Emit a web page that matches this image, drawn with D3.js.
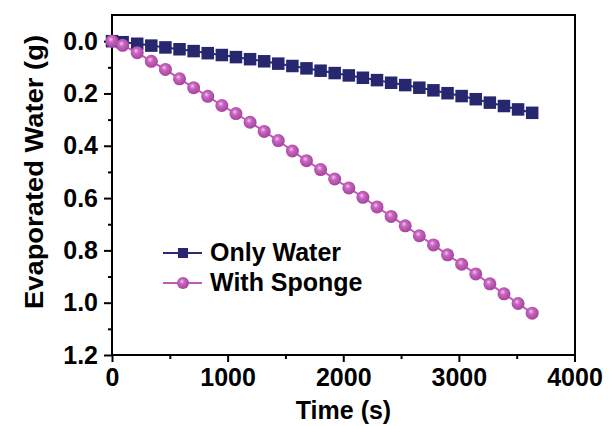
<!DOCTYPE html>
<html>
<head>
<meta charset="utf-8">
<script src="https://cdn.jsdelivr.net/npm/d3@7"></script>
<style>
  body { margin: 0; background: #fff; }
  text { font-family: "Liberation Sans", Arial, sans-serif; font-weight: bold; fill: #000; }
</style>
</head>
<body>
<svg id="chart" width="614" height="426"></svg>
<script>

// Messzeitpunkte (s)
var times = [0, 92, 218, 340, 462, 584, 706, 828, 950, 1072, 1194, 1316, 1438, 1560, 1682,
  1804, 1926, 2048, 2170, 2292, 2414, 2536, 2658, 2780, 2902, 3024, 3146, 3268, 3390, 3512, 3634];

// verdunstetes Wasser (g)
var onlyWater = [0.000, 0.004, 0.010, 0.017, 0.024, 0.031, 0.038, 0.046, 0.053, 0.061, 0.069,
  0.077, 0.086, 0.095, 0.104, 0.113, 0.122, 0.131, 0.140, 0.149, 0.159, 0.168, 0.178, 0.188,
  0.199, 0.210, 0.222, 0.235, 0.248, 0.261, 0.274];
var withSponge = [0.000, 0.016, 0.044, 0.077, 0.108, 0.144, 0.178, 0.211, 0.246, 0.277, 0.310,
  0.345, 0.380, 0.420, 0.457, 0.491, 0.527, 0.561, 0.597, 0.634, 0.670, 0.706, 0.744, 0.779,
  0.817, 0.853, 0.890, 0.928, 0.966, 1.003, 1.040];

var seriesNames = ["Only Water", "With Sponge"];

var xTicks = [0, 1000, 2000, 3000, 4000];
var xMinor = [500, 1500, 2500, 3500];
var yTicks = [0.0, 0.2, 0.4, 0.6, 0.8, 1.0, 1.2];
var yMinor = [0.1, 0.3, 0.5, 0.7, 0.9, 1.1];

var svg = d3.select("#chart");

var plot = { left: 112, right: 575, top: 15, bottom: 355 };

var x = d3.scaleLinear().domain([0, 4000]).range([plot.left, plot.right - 0.5]);
// y-Achse ist umgedreht: 0 oben
var y = d3.scaleLinear().domain([-0.1, 1.2]).range([plot.top, plot.bottom]);

// Gradient für die Kugeln
var defs = svg.append("defs");
var grad = defs.append("radialGradient")
  .attr("id", "ball")
  .attr("cx", "45%").attr("cy", "45%").attr("r", "60%")
  .attr("fx", "40%").attr("fy", "35%");
grad.append("stop").attr("offset", "0%").attr("stop-color", "#f2c4ee");
grad.append("stop").attr("offset", "35%").attr("stop-color", "#c766be");
grad.append("stop").attr("offset", "100%").attr("stop-color", "#a23d9c");

// Achsen
function styleAxis(g) {
  g.select(".domain").remove();
  g.selectAll("line").attr("stroke", "#000").attr("stroke-width", 2);
  g.selectAll("text").style("font-size", "25px");
}

svg.append("g")
  .attr("transform", "translate(" + plot.left + ",0)")
  .call(d3.axisLeft(y).tickValues(yTicks).tickSize(8).tickPadding(6).tickFormat(d3.format(".1f")))
  .call(styleAxis);

svg.append("g")
  .attr("transform", "translate(" + plot.left + ",0)")
  .call(d3.axisLeft(y).tickValues(yMinor).tickSize(4).tickFormat(""))
  .call(styleAxis);

svg.append("g")
  .attr("transform", "translate(0," + plot.bottom + ")")
  .call(d3.axisBottom(x).tickValues(xTicks).tickSize(7).tickPadding(6).tickFormat(d3.format("d")))
  .call(styleAxis);

svg.append("g")
  .attr("transform", "translate(0," + plot.bottom + ")")
  .call(d3.axisBottom(x).tickValues(xMinor).tickSize(4).tickFormat(""))
  .call(styleAxis);

// Rahmen
svg.append("rect")
  .attr("x", plot.left)
  .attr("y", plot.top)
  .attr("width", plot.right - plot.left)
  .attr("height", plot.bottom - plot.top)
  .attr("fill", "none")
  .attr("stroke", "#000")
  .attr("stroke-width", 2);

// Achsentitel
svg.append("text")
  .attr("x", (plot.left + plot.right) / 2)
  .attr("y", 419)
  .attr("text-anchor", "middle")
  .style("font-size", "25px")
  .text("Time (s)");

svg.append("text")
  .attr("transform", "translate(43,172) rotate(-90)")
  .attr("text-anchor", "middle")
  .attr("textLength", 274)
  .attr("lengthAdjust", "spacingAndGlyphs")
  .style("font-size", "26px")
  .text("Evaporated Water (g)");

// Reihen
var line = d3.line()
  .x(function(d) { return x(d[0]); })
  .y(function(d) { return y(d[1]); });

var waterData = times.map(function(t, i) { return [t, onlyWater[i]]; });
var spongeData = times.map(function(t, i) { return [t, withSponge[i]]; });

var sq = 12.5;

svg.append("path")
  .datum(waterData)
  .attr("d", line)
  .attr("fill", "none")
  .attr("stroke", "#2a2a78")
  .attr("stroke-width", 2);

svg.append("g").selectAll("rect")
  .data(waterData)
  .join("rect")
  .attr("x", function(d) { return x(d[0]) - sq / 2; })
  .attr("y", function(d) { return y(d[1]) - sq / 2; })
  .attr("width", sq)
  .attr("height", sq)
  .attr("fill", "#26276f");

svg.append("path")
  .datum(spongeData)
  .attr("d", line)
  .attr("fill", "none")
  .attr("stroke", "#c05ab8")
  .attr("stroke-width", 2);

svg.append("g").selectAll("circle")
  .data(spongeData)
  .join("circle")
  .attr("cx", function(d) { return x(d[0]); })
  .attr("cy", function(d) { return y(d[1]); })
  .attr("r", 6.5)
  .attr("fill", "url(#ball)");

// Legende
var legend = svg.append("g");
var legendRows = [
  { name: seriesNames[0], color: "#2a2a78", y: 253 },
  { name: seriesNames[1], color: "#c05ab8", y: 283 }
];

legendRows.forEach(function(r, i) {
  legend.append("line")
    .attr("x1", 163).attr("x2", 202)
    .attr("y1", r.y).attr("y2", r.y)
    .attr("stroke", r.color)
    .attr("stroke-width", 2);
  if (i == 0) {
    legend.append("rect")
      .attr("x", 183 - 5).attr("y", r.y - 5)
      .attr("width", 10).attr("height", 10)
      .attr("fill", "#26276f");
  } else {
    legend.append("circle")
      .attr("cx", 183).attr("cy", r.y)
      .attr("r", 6)
      .attr("fill", "url(#ball)");
  }
  legend.append("text")
    .attr("x", 210)
    .attr("y", r.y + 8)
    .style("font-size", "25px")
    .text(r.name);
});

</script>
</body>
</html>
